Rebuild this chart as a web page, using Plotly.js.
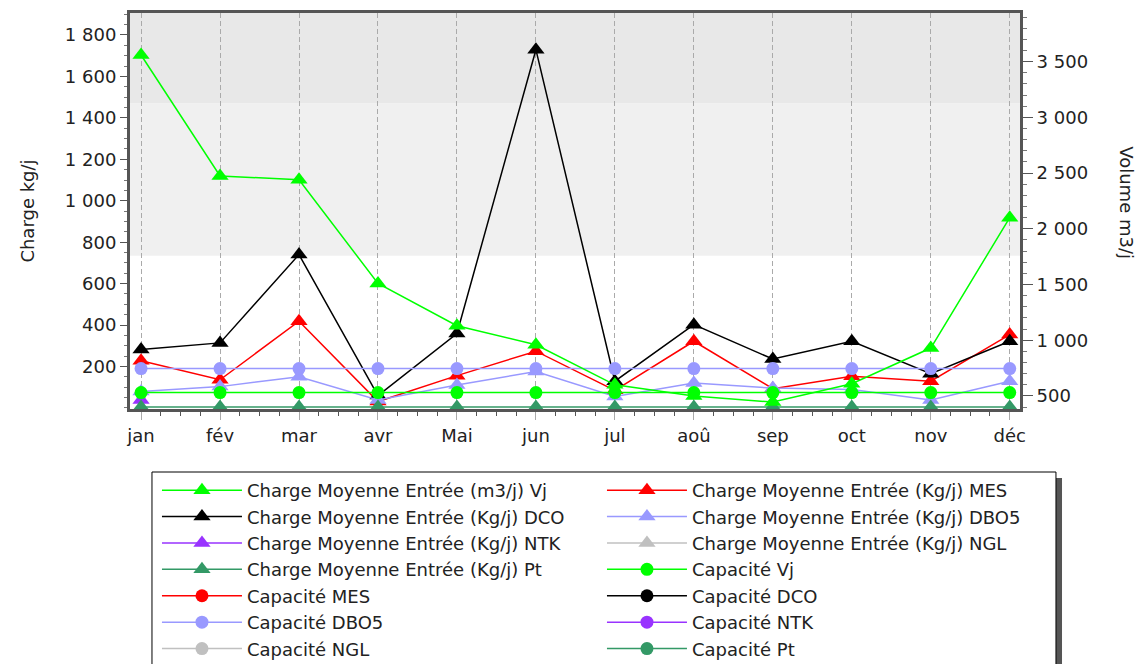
<!DOCTYPE html>
<html>
<head>
<meta charset="utf-8">
<script src="https://cdn.plot.ly/plotly-3.0.1.min.js"></script>
<style>
html,body{margin:0;padding:0;background:#fff;}
#chart{width:1142px;height:664px;}
</style>
</head>
<body>
<div id="chart"></div>
<script>
// ---- data ----
const months = ['jan','fév','mar','avr','Mai','jun','jul','aoû','sep','oct','nov','déc'];
const chargeVj   = [3560, 2475, 2440, 1510, 1130, 960, 600, 500, 445, 610, 930, 2100];
const chargeMES  = [228, 136, 419, 31, 156, 274, 85, 322, 93, 153, 129, 354];
const chargeDCO  = [282, 314, 740, 60, 359, 1729, 129, 402, 236, 322, 165, 322];
const chargeDBO5 = [79, 103, 151, 39, 111, 176, 55, 120, 96, 89, 38, 129];
const chargeNTK  = [38, null, null, null, null, null, null, null, null, null, null, null];
const chargeNGL  = [null, null, null, null, null, null, null, null, null, null, null, null];
const chargePt   = [5, 5, 5, 5, 5, 5, 5, 5, 5, 5, 5, 5];
const capVj      = [530, 530, 530, 530, 530, 530, 530, 530, 530, 530, 530, 530];
const capMES     = [null, null, null, null, null, null, null, null, null, null, null, null];
const capDCO     = [null, null, null, null, null, null, null, null, null, null, null, null];
const capDBO5    = [190, 190, 190, 190, 190, 190, 190, 190, 190, 190, 190, 190];
const capNTK     = [null, null, null, null, null, null, null, null, null, null, null, null];
const capNGL     = [null, null, null, null, null, null, null, null, null, null, null, null];
const capPt      = [null, null, null, null, null, null, null, null, null, null, null, null];
const leftTicks  = [200, 400, 600, 800, 1000, 1200, 1400, 1600, 1800];
const bandLevels = [735, 1470];

const xIdx = months.map((m, i) => i);
const FONT = 'DejaVu Sans, Verdana, sans-serif';

function tr(name, y, color, symbol, axis) {
  return {
    type: 'scatter', mode: 'lines+markers', name: name,
    x: xIdx, y: y, yaxis: axis || 'y',
    line: {color: color, width: 1.5},
    marker: {color: color, symbol: symbol, size: symbol === 'circle' ? 13 : 15},
    connectgaps: false
  };
}

const traces = [
  tr('Charge Moyenne Entrée (m3/j) Vj', chargeVj, '#00ff00', 'triangle-up', 'y2'),
  tr('Charge Moyenne Entrée (Kg/j) MES', chargeMES, '#ff0000', 'triangle-up'),
  tr('Charge Moyenne Entrée (Kg/j) DCO', chargeDCO, '#000000', 'triangle-up'),
  tr('Charge Moyenne Entrée (Kg/j) DBO5', chargeDBO5, '#9999ff', 'triangle-up'),
  tr('Charge Moyenne Entrée (Kg/j) NTK', chargeNTK, '#9933ff', 'triangle-up'),
  tr('Charge Moyenne Entrée (Kg/j) NGL', chargeNGL, '#c0c0c0', 'triangle-up'),
  tr('Charge Moyenne Entrée (Kg/j) Pt', chargePt, '#339966', 'triangle-up'),
  tr('Capacité Vj', capVj, '#00ff00', 'circle', 'y2'),
  tr('Capacité MES', capMES, '#ff0000', 'circle'),
  tr('Capacité DCO', capDCO, '#000000', 'circle'),
  tr('Capacité DBO5', capDBO5, '#9999ff', 'circle'),
  tr('Capacité NTK', capNTK, '#9933ff', 'circle'),
  tr('Capacité NGL', capNGL, '#c0c0c0', 'circle'),
  tr('Capacité Pt', capPt, '#339966', 'circle')
];

const layout = {
  width: 1142, height: 664,
  margin: {l: 130, r: 122, t: 13, b: 255, autoexpand: false},
  paper_bgcolor: '#ffffff', plot_bgcolor: '#ffffff',
  separators: ', ',
  font: {family: FONT, size: 18, color: '#222222'},
  showlegend: true,
  xaxis: {
    type: 'linear', range: [-0.14, 11.13],
    tickvals: xIdx, ticktext: months,
    showgrid: true, gridcolor: '#aaaaaa', griddash: '5px,3px', gridwidth: 1,
    ticks: 'outside', ticklen: 8, tickcolor: '#aaaaaa', tickwidth: 1,
    minor: {dtick: 0.25, ticks: 'outside', ticklen: 4, tickcolor: '#555555', showgrid: false},
    showline: true, linecolor: '#555555', linewidth: 3, mirror: true,
    zeroline: false, tickfont: {family: FONT, size: 18, color: '#222222'}
  },
  yaxis: {
    range: [-5, 1906], tickvals: leftTicks, tickformat: ',d',
    showgrid: false, zeroline: false,
    ticks: 'outside', ticklen: 7, tickcolor: '#555555',
    minor: {dtick: 50, ticks: 'outside', ticklen: 3, tickcolor: '#777777', showgrid: false},
    showline: true, linecolor: '#555555', linewidth: 3,
    title: {text: 'Charge kg/j', font: {family: FONT, size: 18, color: '#222222'}, standoff: 26},
    tickfont: {family: FONT, size: 18, color: '#222222'}
  },
  yaxis2: {
    overlaying: 'y', side: 'right',
    range: [383, 3937], dtick: 500, tick0: 0, tickformat: ',d',
    showgrid: false, zeroline: false,
    ticks: 'outside', ticklen: 10, tickcolor: '#555555',
    minor: {dtick: 100, ticks: 'outside', ticklen: 4, tickcolor: '#777777', showgrid: false},
    showline: true, linecolor: '#555555', linewidth: 3,
    tickfont: {family: FONT, size: 18, color: '#222222'}
  },
  annotations: [
    {text: 'Volume m3/j', xref: 'paper', yref: 'paper', x: 1.12, y: 0.52,
     xanchor: 'center', yanchor: 'middle', textangle: 90, showarrow: false,
     font: {family: FONT, size: 18, color: '#222222'}}
  ],
  legend: {
    orientation: 'h', x: 0.0303, xanchor: 'left', y: -0.159, yanchor: 'top',
    bgcolor: 'rgba(0,0,0,0)', borderwidth: 0,
    entrywidth: 350, entrywidthmode: 'pixels', itemwidth: 80,
    font: {family: FONT, size: 18, color: '#222222'},
    traceorder: 'normal'
  },
  shapes: [
    {type: 'rect', xref: 'paper', yref: 'y', x0: 0, x1: 1, y0: bandLevels[0], y1: bandLevels[1],
     fillcolor: '#f0f0f0', line: {width: 0}, layer: 'below'},
    {type: 'rect', xref: 'paper', yref: 'y', x0: 0, x1: 1, y0: bandLevels[1], y1: 1906,
     fillcolor: '#e8e8e8', line: {width: 0}, layer: 'below'},
    // legend frame shadow and frame
    {type: 'rect', xref: 'paper', yref: 'paper', x0: 1.0404, x1: 1.0472, y0: -0.174, y1: -0.75,
     fillcolor: '#555555', line: {width: 0}, layer: 'above'},
    {type: 'rect', xref: 'paper', yref: 'paper', x0: 0.0247, x1: 1.0404, y0: -0.1591, y1: -0.75,
     fillcolor: '#ffffff', line: {width: 1, color: '#000000'}, layer: 'above'}
  ]
};

Plotly.newPlot('chart', traces, layout, {displayModeBar: false, staticPlot: true});
</script>
</body>
</html>
